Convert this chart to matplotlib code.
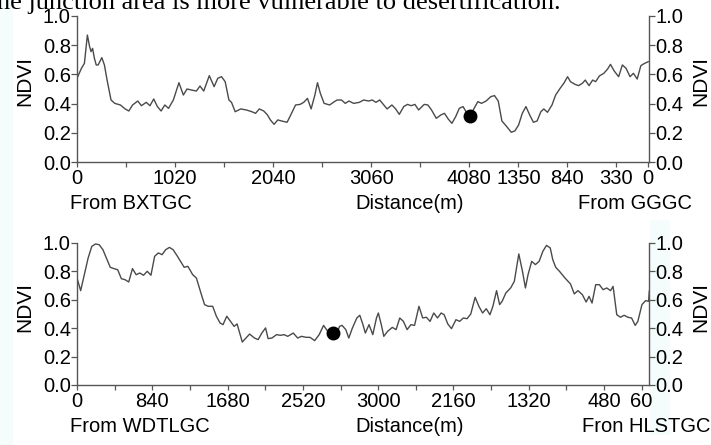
import numpy as np
import matplotlib
matplotlib.use("Agg")
import matplotlib.pyplot as plt

# ---------------- data ----------------
# Top profile: distance along transect (m, from BXTGC) and NDVI
top_dist = [0, 46, 77, 108, 131, 146, 162, 181, 200, 220, 258, 285, 316, 354, 393, 451, 501, 539,
            578, 632, 670, 720, 759, 798, 836, 875, 913, 952, 1002, 1060, 1106, 1144, 1194, 1241,
            1279, 1318, 1376, 1426, 1464, 1503, 1541, 1580, 1607, 1645, 1703, 1761, 1819, 1857,
            1896, 1942, 1981, 2011, 2050, 2088, 2127, 2185, 2223, 2273, 2320, 2358, 2397, 2435,
            2474, 2501, 2531, 2570, 2628, 2666, 2705, 2751, 2790, 2828, 2878, 2936, 2982, 3032,
            3071, 3109, 3148, 3186, 3225, 3275, 3314, 3352, 3398, 3437, 3475, 3514, 3553, 3611,
            3649, 3687, 3737, 3784, 3822, 3861, 3899, 3938, 3976, 4015, 4046, 4111, 4169, 4207,
            4254, 4304, 4342, 4381, 4419, 4470, 4516, 4554, 4593, 4631, 4669, 4708, 4747, 4785,
            4824, 4855, 4893, 4940, 4978, 5025, 5063, 5102, 5132, 5179, 5217, 5256, 5286, 5325,
            5363, 5394, 5433, 5479, 5518, 5548, 5587, 5633, 5672, 5710, 5752, 5787, 5826, 5864,
            5903, 5941]
top_ndvi = [0.573, 0.641, 0.675, 0.868, 0.789, 0.755, 0.777, 0.709, 0.664, 0.664, 0.714, 0.664,
            0.550, 0.425, 0.402, 0.391, 0.364, 0.350, 0.391, 0.418, 0.386, 0.409, 0.386, 0.432,
            0.380, 0.350, 0.391, 0.368, 0.425, 0.543, 0.459, 0.500, 0.493, 0.486, 0.520, 0.486,
            0.591, 0.516, 0.573, 0.584, 0.550, 0.425, 0.409, 0.345, 0.364, 0.357, 0.345, 0.334,
            0.364, 0.350, 0.323, 0.289, 0.259, 0.289, 0.282, 0.273, 0.323, 0.391, 0.395, 0.409,
            0.436, 0.364, 0.459, 0.543, 0.470, 0.402, 0.391, 0.409, 0.425, 0.425, 0.402, 0.418,
            0.402, 0.409, 0.425, 0.418, 0.425, 0.409, 0.425, 0.395, 0.364, 0.391, 0.364, 0.327,
            0.380, 0.395, 0.386, 0.395, 0.357, 0.395, 0.391, 0.357, 0.300, 0.323, 0.334, 0.295,
            0.266, 0.311, 0.368, 0.380, 0.345, 0.345, 0.414, 0.402, 0.418, 0.448, 0.455, 0.418,
            0.282, 0.243, 0.205, 0.214, 0.255, 0.334, 0.380, 0.323, 0.273, 0.282, 0.345, 0.364,
            0.341, 0.391, 0.459, 0.505, 0.539, 0.584, 0.550, 0.532, 0.523, 0.539, 0.561, 0.523,
            0.561, 0.550, 0.589, 0.607, 0.636, 0.668, 0.623, 0.584, 0.664, 0.641, 0.584, 0.607,
            0.568, 0.659, 0.675, 0.686]
top_length = 5940
top_marker = (4084, 0.315)
top_left_labels = [0, 1020, 2040, 3060, 4080]      # distance from BXTGC
top_right_labels = [1350, 840, 330, 0]             # distance from GGGC

# Bottom profile: distance along transect (m, from WDTLGC) and NDVI
bot_dist = [0, 41, 82, 124, 165, 206, 247, 289, 330, 371, 412, 454, 495, 536, 577, 619, 660, 701,
            742, 784, 825, 866, 907, 949, 990, 1031, 1072, 1114, 1155, 1196, 1237, 1291, 1332,
            1382, 1423, 1464, 1514, 1555, 1596, 1629, 1671, 1712, 1753, 1786, 1815, 1844, 1885,
            1926, 1980, 2021, 2062, 2104, 2132, 2174, 2227, 2269, 2310, 2351, 2413, 2462, 2504,
            2557, 2599, 2652, 2702, 2751, 2784, 2825, 2887, 2929, 2957, 2999, 3032, 3073, 3122,
            3155, 3188, 3217, 3258, 3300, 3341, 3362, 3395, 3423, 3465, 3518, 3560, 3601, 3642,
            3683, 3725, 3766, 3815, 3857, 3898, 3939, 3980, 4022, 4063, 4096, 4137, 4178, 4228,
            4269, 4310, 4352, 4393, 4442, 4484, 4525, 4566, 4607, 4640, 4681, 4715, 4743, 4785,
            4838, 4879, 4929, 4970, 5003, 5032, 5073, 5114, 5156, 5197, 5238, 5280, 5308, 5341,
            5383, 5444, 5506, 5548, 5589, 5638, 5680, 5713, 5746, 5787, 5828, 5869, 5911, 5952,
            5981, 6022, 6063, 6104, 6146, 6187, 6228, 6257, 6303, 6344, 6377, 6385]
bot_ndvi = [0.752, 0.663, 0.775, 0.892, 0.974, 0.991, 0.986, 0.951, 0.888, 0.827, 0.818, 0.810,
            0.747, 0.740, 0.724, 0.818, 0.775, 0.787, 0.771, 0.799, 0.771, 0.904, 0.928, 0.916,
            0.951, 0.967, 0.951, 0.911, 0.869, 0.827, 0.834, 0.775, 0.752, 0.647, 0.565, 0.553,
            0.553, 0.483, 0.436, 0.424, 0.483, 0.447, 0.412, 0.429, 0.365, 0.302, 0.330, 0.358,
            0.330, 0.319, 0.365, 0.401, 0.326, 0.330, 0.354, 0.349, 0.354, 0.342, 0.365, 0.330,
            0.342, 0.335, 0.335, 0.312, 0.354, 0.419, 0.389, 0.354, 0.342, 0.412, 0.419, 0.389,
            0.330, 0.401, 0.471, 0.490, 0.429, 0.365, 0.424, 0.354, 0.471, 0.506, 0.424, 0.342,
            0.377, 0.405, 0.389, 0.471, 0.447, 0.389, 0.424, 0.419, 0.553, 0.471, 0.476, 0.447,
            0.506, 0.471, 0.506, 0.494, 0.429, 0.396, 0.459, 0.447, 0.471, 0.466, 0.499, 0.616,
            0.553, 0.506, 0.536, 0.494, 0.553, 0.663, 0.565, 0.588, 0.647, 0.682, 0.728, 0.921,
            0.799, 0.682, 0.775, 0.869, 0.846, 0.869, 0.939, 0.981, 0.963, 0.881, 0.827, 0.799,
            0.752, 0.710, 0.640, 0.663, 0.635, 0.583, 0.623, 0.576, 0.705, 0.705, 0.670, 0.682,
            0.663, 0.693, 0.494, 0.476, 0.490, 0.476, 0.471, 0.419, 0.447, 0.565, 0.593, 0.588,
            0.660]
bot_length = 6360
bot_marker = (2858, 0.363)
bot_left_labels = [0, 840, 1680, 2520]             # distance from WDTLGC
bot_right_labels = [3000, 2160, 1320, 480, 60]     # distance from HLSTGC

y_ticks = [0.0, 0.2, 0.4, 0.6, 0.8, 1.0]

# ---------------- drawing ----------------
W, H = 711, 445
fig = plt.figure(figsize=(W / 100, H / 100), dpi=100)
fig.patch.set_facecolor("white")
FONT = "Liberation Sans"
FS = 14.5
line_c = "#4a4a4a"
axis_c = "#555555"

# faint scan-tint borders (behind everything)
fig.patches.append(plt.Rectangle((0, 0), 13 / W, 1, transform=fig.transFigure,
                                 facecolor="#f5fcfc", edgecolor="none", zorder=-5))
fig.patches.append(plt.Rectangle((650 / W, 10 / H), 20 / W, 215 / H, transform=fig.transFigure,
                                 facecolor="#f5fcfc", edgecolor="none", zorder=-5))


def make_panel(rect, dist, ndvi, length, step, marker, left_labels, right_labels, right_end):
    ax = fig.add_axes(rect)
    ax.set_zorder(2)
    ax.set_facecolor("none")
    ax.plot(dist, ndvi, color=line_c, lw=1.0, zorder=2)
    ax.plot([marker[0]], [marker[1]], "o", color="black", ms=9, zorder=3)
    ax.set_ylim(0, 1.0)
    ax.set_xlim(0, right_end)
    positions = list(np.arange(0, length - 1, step))
    labels_map = {float(v): str(v) for v in left_labels}
    for v in right_labels:
        labels_map[float(length - v)] = str(v)
    if 0 in right_labels:
        positions.append(length)
    labels = [labels_map.get(float(p), "") for p in positions]
    ax.set_xticks(positions)
    ax.set_xticklabels(labels, fontfamily=FONT, fontsize=FS)
    ax.set_yticks(y_ticks)
    ax.set_yticklabels(["%.1f" % v for v in y_ticks], fontfamily=FONT, fontsize=FS)
    ax.tick_params(axis="x", direction="out", length=3.5, width=0.9, color=axis_c, pad=1.5)
    ax.tick_params(axis="y", direction="out", length=4, width=0.9, color=axis_c, pad=0.5,
                   left=True, right=True, labelleft=True, labelright=True)
    ax.spines["top"].set_visible(False)
    for s in ("left", "right", "bottom"):
        ax.spines[s].set_color(axis_c)
        ax.spines[s].set_linewidth(1.0)
    return ax


ax1 = make_panel([77 / W, 1 - 162.3 / H, 572.3 / W, 146.6 / H],
                 top_dist, top_ndvi, top_length, 510, top_marker,
                 top_left_labels, top_right_labels, 5952)
ax2 = make_panel([77 / W, 1 - 385 / H, 572.3 / W, 142.3 / H],
                 bot_dist, bot_ndvi, bot_length, 420, bot_marker,
                 bot_left_labels, bot_right_labels, 6385)


def ftxt(x, y, s, ha, rot=0, fs=FS):
    fig.text(x / W, 1 - y / H, s, ha=ha, va="center", rotation=rot,
             fontfamily=FONT, fontsize=fs)


# NDVI axis titles (both sides)
for yc in (81, 307):
    ftxt(25, yc, "NDVI", "center", rot=90, fs=15)
    ftxt(701, yc, "NDVI", "center", rot=90, fs=15)

# x annotations
ftxt(70, 204, "From BXTGC", "left")
ftxt(410, 204, "Distance(m)", "center")
ftxt(692, 204, "From GGGC", "right")
ftxt(70, 426, "From WDTLGC", "left")
ftxt(410, 426, "Distance(m)", "center")
ftxt(710, 426, "Fron HLSTGC", "right")

# clipped caption line from the source document at top
fig.text(-3 / W, 1 - 8.5 / H, "he junction area is more vulnerable to desertification.",
         ha="left", va="baseline", fontfamily="Liberation Serif", fontsize=19, color="black")

fig.savefig("out.png", dpi=100)
